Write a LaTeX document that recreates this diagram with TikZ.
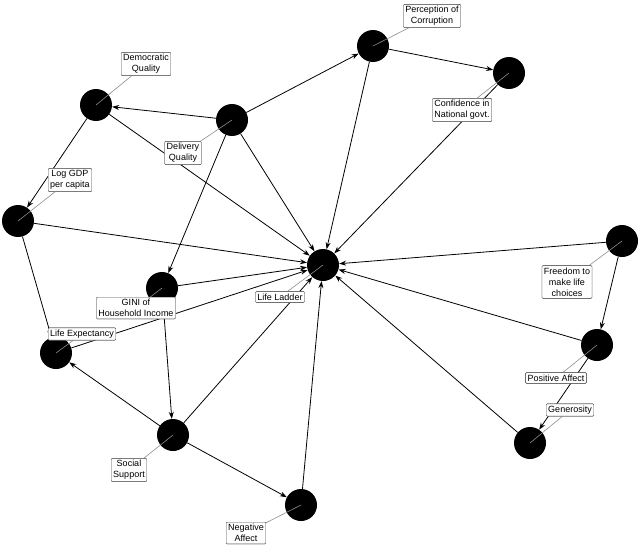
\documentclass[tikz,border=0pt]{standalone}
\usepackage{fontspec}
\setmainfont{Liberation Sans}
\usetikzlibrary{arrows.meta}
\begin{document}
\begin{tikzpicture}[x=1pt,y=-1pt,
  v/.style={circle,fill=black,minimum size=32pt,inner sep=0pt},
  lab/.style={draw=black!70,fill=white,rounded corners=1pt,font=\fontsize{9}{11}\selectfont,align=center,inner sep=2pt},
  e/.style={-{Stealth[length=7pt,width=5pt]},line width=0.8pt},
  lead/.style={draw=black!45,line width=0.6pt}]
\useasboundingbox (0,0) rectangle (640,551);
\node[v] (LL) at (323,265) {};
\node[v] (PC) at (373,46) {};
\node[v] (CG) at (509,73) {};
\node[v] (DQ) at (96,105) {};
\node[v] (DV) at (232,120) {};
\node[v] (GDP) at (18,221) {};
\node[v] (GI) at (162,288) {};
\node[v] (LE) at (56,353) {};
\node[v] (SS) at (173,435) {};
\node[v] (NA) at (301,505) {};
\node[v] (FR) at (622,241) {};
\node[v] (PA) at (597,345) {};
\node[v] (GE) at (530,443) {};
\draw[e] (DV) -- (PC);
\draw[e] (PC) -- (CG);
\draw[e] (PC) -- (LL);
\draw[e] (CG) -- (LL);
\draw[e] (DV) -- (DQ);
\draw[e] (DV) -- (LL);
\draw[e] (DV) -- (GI);
\draw[e] (DQ) -- (GDP);
\draw[e] (DQ) -- (LL);
\draw[e] (GDP) -- (LL);
\draw[e] (GDP) -- (LE);
\draw[e] (GI) -- (LL);
\draw[e] (LE) -- (LL);
\draw[e] (GI) -- (SS);
\draw[e] (SS) -- (LE);
\draw[e] (SS) -- (LL);
\draw[e] (SS) -- (NA);
\draw[e] (NA) -- (LL);
\draw[e] (FR) -- (LL);
\draw[e] (FR) -- (PA);
\draw[e] (PA) -- (LL);
\draw[e] (PA) -- (GE);
\draw[e] (GE) -- (LL);
\foreach \n/\p/\t in {PC/{432,16}/{Perception of\\Corruption},
  DQ/{146,64}/{Democratic\\Quality},
  DV/{183,153}/{Delivery\\Quality},
  CG/{462,110}/{Confidence in\\National govt.},
  GDP/{70,180}/{Log GDP\\per capita},
  FR/{567,282}/{Freedom to\\make life\\choices},
  GI/{136,308}/{GINI of\\Household Income},
  LL/{280,297}/{Life Ladder},
  LE/{82,334}/{Life Expectancy},
  PA/{556,378}/{Positive Affect},
  GE/{570,410}/{Generosity},
  SS/{129,470}/{Social\\Support},
  NA/{246,533}/{Negative\\Affect}}{
  \node[lab] (L\n) at (\p) {\t};
  \draw[lead] (\n.center) -- (L\n);
  \node[lab] at (\p) {\t};
}
\end{tikzpicture}
\end{document}
